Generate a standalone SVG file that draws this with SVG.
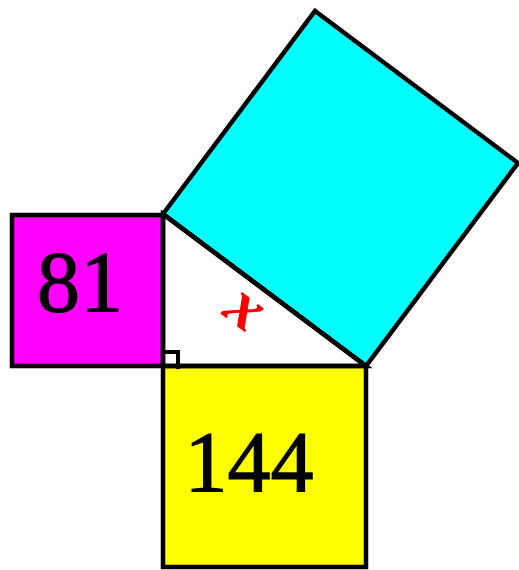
<svg xmlns="http://www.w3.org/2000/svg" width="519" height="570" viewBox="0 0 519 570">
<style>
.sq{stroke:#000;stroke-width:4.5;stroke-linejoin:miter}
.num{font-family:"Liberation Serif",serif;font-size:86px;fill:#000;stroke:#000;stroke-width:1.2;text-anchor:middle}
</style>
<rect width="519" height="570" fill="#fff"/>
<g id="square-81">
<rect class="sq" x="12" y="215" width="151" height="151" fill="#ff00ff"/>
<text class="num" x="80" y="311">81</text>
</g>
<g id="square-144">
<rect class="sq" x="163" y="366" width="203" height="201" fill="#ffff00"/>
<text class="num" x="249" y="491">144</text>
</g>
<g id="square-x">
<polygon class="sq" points="163,214 315,11 518,163 366,366" fill="#00ffff"/>
</g>
<g id="triangle">
<polygon points="163,214 163,366 366,366" fill="none" stroke="#000" stroke-width="4.5"/>
<polyline points="163,352 178,352 178,369" fill="none" stroke="#000" stroke-width="4"/>
<text x="0" y="0" transform="translate(234,324) rotate(36.87)" font-family="Liberation Serif,serif" font-style="italic" font-weight="bold" font-size="66" fill="#ff0000" text-anchor="middle">x</text>
</g>
</svg>
